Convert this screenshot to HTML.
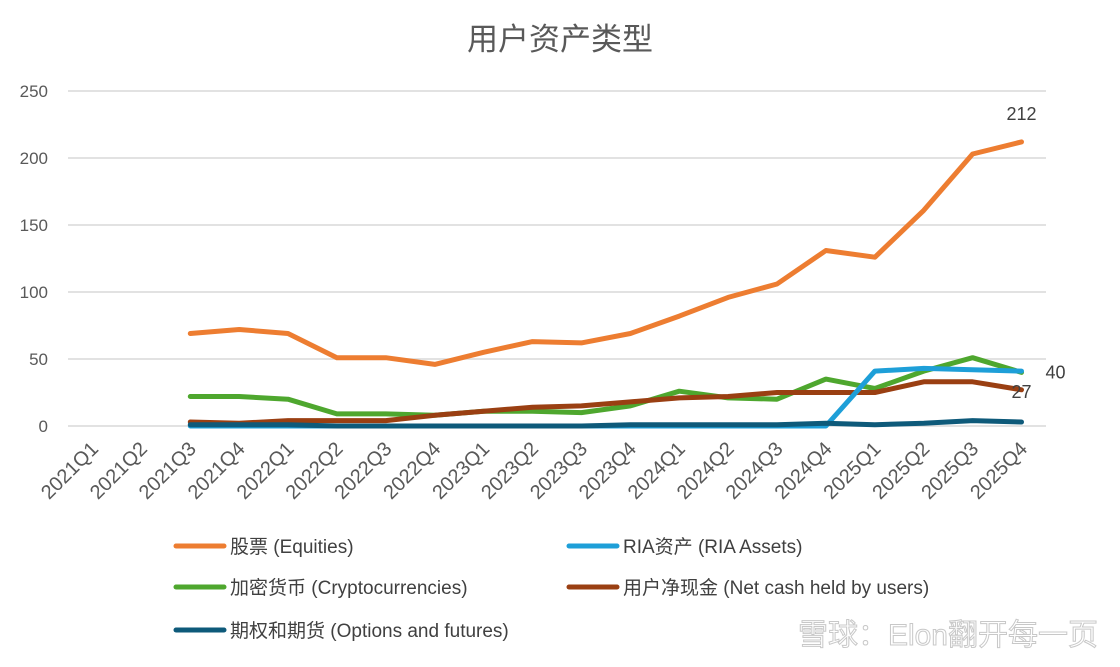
<!DOCTYPE html>
<html><head><meta charset="utf-8"><style>
body{margin:0;background:#fff;}
svg text{font-family:"Liberation Sans","Noto Sans CJK SC",sans-serif;}
</style></head><body>
<svg id="chart" width="1120" height="662" viewBox="0 0 1120 662" xmlns="http://www.w3.org/2000/svg">
<rect width="1120" height="662" fill="#fff"/>
<text x="560" y="50" text-anchor="middle" font-size="31" fill="#595959">用户资产类型</text>
<g id="grid"></g><g id="yticks"></g><g id="xticks"></g><g id="series"></g><g id="labels"></g><g id="legend"></g>
<text x="1098" y="645" text-anchor="end" font-size="30" fill="#ffffff" stroke="#bbbbbb" stroke-width="1" opacity="0.8">雪球：Elon翻开每一页</text>
</svg>
<script>
const categories=["2021Q1","2021Q2","2021Q3","2021Q4","2022Q1","2022Q2","2022Q3","2022Q4","2023Q1","2023Q2","2023Q3","2023Q4","2024Q1","2024Q2","2024Q3","2024Q4","2025Q1","2025Q2","2025Q3","2025Q4"];
const yTicks=[0,50,100,150,200,250];
const equities=[null,null,69,72,69,51,51,46,55,63,62,69,82,96,106,131,126,161,203,212];
const ria=[null,null,0,0,0,0,0,0,0,0,0,0,0,0,0,0,41,43,42,41];
const crypto=[null,null,22,22,20,9,9,8,11,11,10,15,26,21,20,35,28,41,51,40];
const cash=[null,null,3,2,4,4,4,8,11,14,15,18,21,22,25,25,25,33,33,27];
const options=[null,null,1,1,1,0,0,0,0,0,0,1,1,1,1,2,1,2,4,3];
const seriesNames=["股票 (Equities)","RIA资产 (RIA Assets)","加密货币 (Cryptocurrencies)","用户净现金 (Net cash held by users)","期权和期货 (Options and futures)"];
const seriesData=[equities,ria,crypto,cash,options];
const colors=["#ED7D31","#1E9FD8","#4EA72E","#9A3F12","#0E5A7A"];
const NS="http://www.w3.org/2000/svg";
const L=68,R=1046,T=91,B=426,yMax=250;
const step=(R-L)/categories.length;
const xs=i=>L+step*(i+0.5);
const ys=v=>B-(v/yMax)*(B-T);
function mk(t,a,p){const e=document.createElementNS(NS,t);for(const k in a)e.setAttribute(k,a[k]);document.getElementById(p).appendChild(e);return e;}
yTicks.forEach(v=>{
 const g=mk("line",{x1:L,x2:R,y1:ys(v),y2:ys(v),stroke:"#d9d9d9","stroke-width":1.5},"grid");
 
 
 const t=mk("text",{x:48,y:ys(v)+6,"text-anchor":"end","font-size":17,fill:"#595959"},"yticks");
 t.textContent=v;
 
 
});
categories.forEach((c,i)=>{
 const x=xs(i)+7,y=450;
 const t=mk("text",{x:x,y:y,"text-anchor":"end","font-size":20,fill:"#595959",transform:`rotate(-45 ${x} ${y})`},"xticks");
 t.textContent=c;
 
 
});
const order=[0,2,3,1,4];
order.forEach(si=>{
 const d=seriesData[si];let pts=[];
 d.forEach((v,i)=>{if(v!==null)pts.push(xs(i).toFixed(1)+","+ys(v).toFixed(1));});
 const p=mk("polyline",{points:pts.join(" "),fill:"none",stroke:colors[si],"stroke-width":5,"stroke-linejoin":"round","stroke-linecap":"round"},"series");
 
 
});
const last=categories.length-1;
[[equities,0,-22],[crypto,34,6],[cash,0,8]].forEach(([d,dx,dy],k)=>{
 const t=mk("text",{x:xs(last)+dx,y:ys(d[last])+dy,"text-anchor":"middle","font-size":18,fill:"#404040"},"labels");
 t.textContent=d[last];
 
 
});
const legPos=[[176,546],[569,546],[176,587],[569,587],[176,630]];
seriesNames.forEach((n,i)=>{
 const [x,y]=legPos[i];
 const l=mk("line",{x1:x,x2:x+48,y1:y,y2:y,stroke:colors[i],"stroke-width":5,"stroke-linecap":"round"},"legend");
 
 
 const t=mk("text",{x:x+54,y:y+7,"font-size":19,fill:"#404040"},"legend");
 t.textContent=n;
 
 
});
</script>
</body></html>
